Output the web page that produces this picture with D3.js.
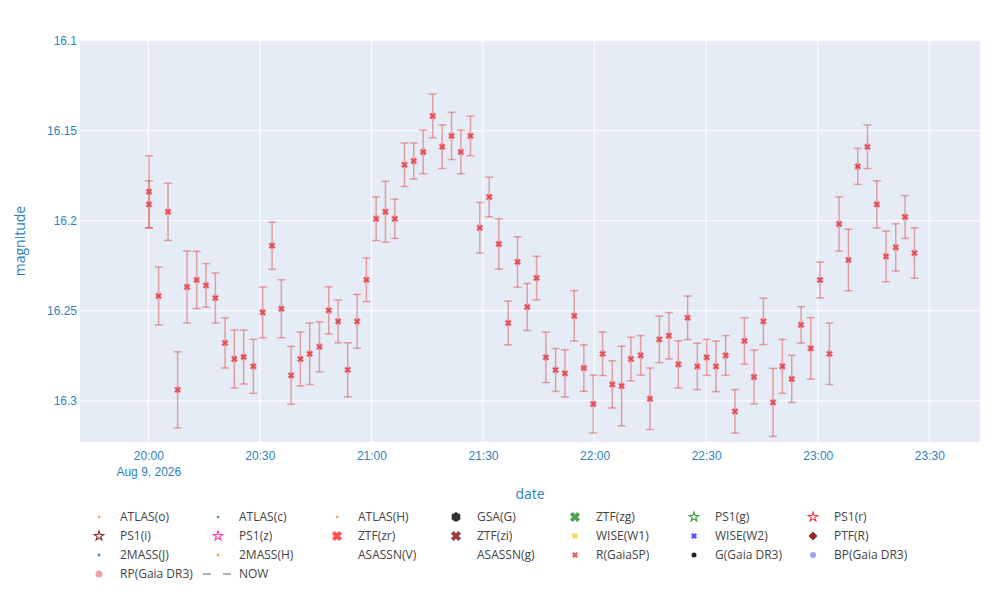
<!DOCTYPE html>
<html>
<head>
<meta charset="utf-8">
<script src="https://cdn.jsdelivr.net/npm/d3@7"></script>
<style>
  body { margin: 0; background: #fff; }
  svg { font-family: "Open Sans", "DejaVu Sans", sans-serif; }
</style>
</head>
<body>
<div class="contents"></div>
<script>
// R(GaiaSP) light curve, Aug 9 2026
const obsDate = "2026-08-09"
const times = ["20:00:11","20:00:11","20:02:46","20:05:18","20:07:53","20:10:25","20:13:00","20:15:31","20:18:02","20:20:38",
  "20:23:08","20:25:38","20:28:15","20:30:45","20:33:17","20:35:47","20:38:24","20:40:54","20:43:24","20:46:01",
  "20:48:31","20:51:02","20:53:37","20:56:09","20:58:39","21:01:16","21:03:46","21:06:16","21:08:53","21:11:23",
  "21:13:55","21:16:29","21:19:01","21:21:32","21:24:02","21:26:38","21:29:08","21:31:40","21:34:15","21:36:47",
  "21:39:17","21:41:53","21:44:24","21:46:54","21:49:31","21:52:01","21:54:32","21:57:07","21:59:39","22:02:09",
  "22:04:46","22:07:16","22:09:46","22:12:23","22:14:53","22:17:25","22:19:59","22:22:31","22:25:01","22:27:38",
  "22:30:08","22:32:38","22:35:15","22:37:45","22:40:17","22:42:52","22:45:23","22:47:59","22:50:30","22:53:01",
  "22:55:31","22:58:07","23:00:37","23:03:09","23:05:44","23:08:16","23:10:46","23:13:22","23:15:53","23:18:23",
  "23:20:59","23:23:29","23:26:01"]
const mags = [16.1839,16.1909,16.2418,16.1950,16.2939,16.2368,16.2329,16.2359,16.2429,16.2679,
  16.2768,16.2757,16.2809,16.2509,16.2139,16.2489,16.2859,16.2768,16.2739,16.2700,
  16.2498,16.2559,16.2828,16.2559,16.2328,16.1989,16.1950,16.1989,16.1689,16.1668,
  16.1618,16.1418,16.1589,16.1529,16.1618,16.1529,16.2039,16.1868,16.2129,16.2568,
  16.2229,16.2479,16.2318,16.2759,16.2829,16.2848,16.2528,16.2818,16.3018,16.2739,
  16.2909,16.2918,16.2768,16.2748,16.2989,16.2659,16.2639,16.2798,16.2539,16.2809,
  16.2759,16.2809,16.2748,16.3059,16.2668,16.2868,16.2559,16.3009,16.2809,16.2879,
  16.2578,16.2709,16.2329,16.2739,16.2018,16.2218,16.1698,16.1589,16.1909,16.2198,
  16.2148,16.1979,16.2179]
const errs = [0.0200,0.0131,0.0161,0.0159,0.0211,0.0200,0.0159,0.0121,0.0139,0.0139,
  0.0161,0.0150,0.0150,0.0141,0.0131,0.0161,0.0161,0.0150,0.0171,0.0139,
  0.0131,0.0119,0.0150,0.0150,0.0121,0.0121,0.0169,0.0109,0.0121,0.0100,
  0.0121,0.0121,0.0121,0.0131,0.0121,0.0110,0.0141,0.0110,0.0140,0.0121,
  0.0140,0.0131,0.0121,0.0140,0.0119,0.0131,0.0140,0.0129,0.0161,0.0121,
  0.0131,0.0221,0.0121,0.0110,0.0171,0.0129,0.0129,0.0131,0.0121,0.0129,
  0.0100,0.0140,0.0110,0.0121,0.0129,0.0150,0.0129,0.0189,0.0150,0.0131,
  0.0101,0.0171,0.0100,0.0171,0.0150,0.0171,0.0100,0.0121,0.0131,0.0141,
  0.0131,0.0119,0.0140]

const yTicks = [16.1, 16.15, 16.2, 16.25, 16.3]
const xRange = ["19:41:38", "23:43:38"]
const yRange = [16.0996, 16.3229]

const legendNames = ["ATLAS(o)","ATLAS(c)","ATLAS(H)","GSA(G)","ZTF(zg)","PS1(g)","PS1(r)",
  "PS1(i)","PS1(z)","ZTF(zr)","ZTF(zi)","WISE(W1)","WISE(W2)","PTF(R)",
  "2MASS(J)","2MASS(H)","ASASSN(V)","ASASSN(g)","R(GaiaSP)","G(Gaia DR3)","BP(Gaia DR3)",
  "RP(Gaia DR3)","NOW"]

// legend symbol look per series
const legendStyle = {
  "ATLAS(o)": {sym: "dot", r: 1.3, color: "#f5a05a"},
  "ATLAS(c)": {sym: "dot", r: 1.3, color: "#4a9a9a"},
  "ATLAS(H)": {sym: "dot", r: 1.3, color: "#f5a05a"},
  "GSA(G)": {sym: "hex", r: 5, color: "#333"},
  "ZTF(zg)": {sym: "xbig", r: 4, color: "#3a9a3a"},
  "PS1(g)": {sym: "star", r: 5, color: "#3a9a3a"},
  "PS1(r)": {sym: "star", r: 5, color: "#ee3b3b"},
  "PS1(i)": {sym: "star", r: 5, color: "#8b2a2a"},
  "PS1(z)": {sym: "star", r: 5, color: "#ff3ea0"},
  "ZTF(zr)": {sym: "xbig", r: 4, color: "#ff3a3a"},
  "ZTF(zi)": {sym: "xbig", r: 4, color: "#8b2a2a"},
  "WISE(W1)": {sym: "x", r: 2.5, color: "#f2d43a"},
  "WISE(W2)": {sym: "x", r: 2.5, color: "#4040e8"},
  "PTF(R)": {sym: "diamond", r: 4.5, color: "#9a2a2a"},
  "2MASS(J)": {sym: "dot", r: 1.4, color: "#3a8ac0"},
  "2MASS(H)": {sym: "dot", r: 1.4, color: "#f5a05a"},
  "ASASSN(V)": {sym: "none"},
  "ASASSN(g)": {sym: "none"},
  "R(GaiaSP)": {sym: "x", r: 2.5, color: "#dd5058"},
  "G(Gaia DR3)": {sym: "dot", r: 2.5, color: "#222"},
  "BP(Gaia DR3)": {sym: "dot", r: 3, color: "#a0a0f5"},
  "RP(Gaia DR3)": {sym: "dot", r: 3.5, color: "#f5a0a0"},
  "NOW": {sym: "dash", color: "#999"}
}

width = 1000
height = 600
margin = {left: 80, right: 20, top: 40, bottom: 158}
tickColor = "#2f7fbf"

const parse = d3.timeParse("%Y-%m-%d %H:%M:%S")
const data = times.map((t, i) => ({date: parse(obsDate + " " + t), mag: mags[i], err: errs[i]}))

const x = d3.scaleTime()
    .domain(xRange.map(t => parse(obsDate + " " + t)))
    .range([margin.left, width - margin.right])
const y = d3.scaleLinear()
    .domain(yRange)
    .range([margin.top, height - margin.bottom])

const svg = d3.select(".contents").append("svg")
    .attr("width", width)
    .attr("height", height)

svg.append("rect")
    .attr("x", margin.left).attr("y", margin.top)
    .attr("width", width - margin.left - margin.right)
    .attr("height", height - margin.top - margin.bottom)
    .attr("fill", "#e5ecf6")

const xTicks = d3.timeMinute.every(30).range(...x.domain())

// grid
svg.append("g")
  .selectAll("line")
  .data(xTicks)
  .join("line")
    .attr("x1", d => x(d)).attr("x2", d => x(d))
    .attr("y1", margin.top).attr("y2", height - margin.bottom)
    .attr("stroke", "#fff").attr("stroke-width", 1)
svg.append("g")
  .selectAll("line")
  .data(yTicks)
  .join("line")
    .attr("x1", margin.left).attr("x2", width - margin.right)
    .attr("y1", d => y(d)).attr("y2", d => y(d))
    .attr("stroke", "#fff").attr("stroke-width", 1)

// axes
const xAxis = svg.append("g")
    .attr("transform", `translate(0,${height - margin.bottom})`)
    .call(d3.axisBottom(x).tickValues(xTicks).tickSize(0).tickPadding(9).tickFormat(d3.timeFormat("%H:%M")))
xAxis.select(".domain").remove()
xAxis.selectAll("text")
    .attr("fill", tickColor).attr("font-size", 12)
    .each(function(d, i) {
      if (i === 0) {
        d3.select(this).append("tspan").attr("x", 0).attr("dy", "1.35em").text(d3.timeFormat("%b %-d, %Y")(d))
      }
    })

const yAxis = svg.append("g")
    .attr("transform", `translate(${margin.left},0)`)
    .call(d3.axisLeft(y).tickValues(yTicks).tickSize(0).tickPadding(3).tickFormat(d => d3.format("")(+d.toFixed(2))))
yAxis.select(".domain").remove()
yAxis.selectAll("text").attr("fill", tickColor).attr("font-size", 12)

svg.append("text")
    .attr("x", (margin.left + width - margin.right) / 2 + 0)
    .attr("y", 499)
    .attr("text-anchor", "middle")
    .attr("fill", tickColor).attr("font-size", 14)
    .text("date")
svg.append("text")
    .attr("transform", `translate(25,${(margin.top + height - margin.bottom) / 2}) rotate(-90)`)
    .attr("text-anchor", "middle")
    .attr("fill", tickColor).attr("font-size", 14)
    .text("magnitude")

// plotly style x marker
function xPath(r) {
  const rx = +(r * 0.8 / Math.SQRT2).toFixed(2)
  const ne = `l${rx},${rx}`, se = `l${rx},-${rx}`, sw = `l-${rx},-${rx}`, nw = `l-${rx},${rx}`
  return `M0,${rx}` + ne + se + sw + se + sw + nw + sw + nw + ne + nw + ne + "Z"
}

// error bars
const plot = svg.append("g")
const eb = plot.append("g")
    .attr("stroke", "rgba(214,39,40,0.4)")
    .attr("stroke-width", 1.5)
  .selectAll("g")
  .data(data)
  .join("g")
eb.append("line")
    .attr("x1", d => x(d.date)).attr("x2", d => x(d.date))
    .attr("y1", d => y(d.mag - d.err)).attr("y2", d => y(d.mag + d.err))
eb.append("line")
    .attr("x1", d => x(d.date) - 4).attr("x2", d => x(d.date) + 4)
    .attr("y1", d => y(d.mag - d.err)).attr("y2", d => y(d.mag - d.err))
eb.append("line")
    .attr("x1", d => x(d.date) - 4).attr("x2", d => x(d.date) + 4)
    .attr("y1", d => y(d.mag + d.err)).attr("y2", d => y(d.mag + d.err))

plot.append("g")
  .selectAll("path")
  .data(data)
  .join("path")
    .attr("transform", d => `translate(${x(d.date)},${y(d.mag)})`)
    .attr("d", xPath(2.8))
    .attr("fill", "#dd4a52")
    .attr("stroke", "rgba(236,140,150,0.9)")
    .attr("stroke-width", 1)

// legend
const legend = svg.append("g").attr("font-size", 12).attr("fill", "#444")
const colX = 99, colW = 119, rowY = 517, rowH = 19
legendNames.forEach(function(name, i) {
  const s = legendStyle[name]
  const cx = colX + (i % 7) * colW
  const cy = rowY + Math.floor(i / 7) * rowH
  const g = legend.append("g").attr("transform", `translate(${cx},${cy})`)
  if (s.sym === "dot") {
    g.append("circle").attr("r", s.r).attr("fill", s.color)
  } else if (s.sym === "hex") {
    const pts = d3.range(6).map(k => [s.r * Math.cos(Math.PI / 6 + k * Math.PI / 3), s.r * Math.sin(Math.PI / 6 + k * Math.PI / 3)])
    g.append("path").attr("d", "M" + pts.join("L") + "Z").attr("fill", s.color)
  } else if (s.sym === "star") {
    g.append("path").attr("d", d3.symbol(d3.symbolStar, 28)()).attr("fill", "none")
      .attr("stroke", s.color).attr("stroke-width", 1.1)
  } else if (s.sym === "x" || s.sym === "xbig") {
    g.append("path").attr("d", xPath(s.r)).attr("fill", s.color)
      .attr("stroke", s.color).attr("stroke-width", s.sym === "xbig" ? 1 : 0.5).attr("opacity", 0.9)
  } else if (s.sym === "diamond") {
    g.append("path").attr("d", `M0,-${s.r}L${s.r},0L0,${s.r}L-${s.r},0Z`).attr("fill", s.color)
  } else if (s.sym === "dash") {
    g.append("line").attr("x1", -15).attr("x2", 15)
      .attr("stroke", s.color).attr("stroke-width", 1.5).attr("stroke-dasharray", "8,12")
  }
  legend.append("text")
      .attr("x", cx + 21).attr("y", cy).attr("dy", "0.35em")
      .text(name)
})
</script>
</body>
</html>
